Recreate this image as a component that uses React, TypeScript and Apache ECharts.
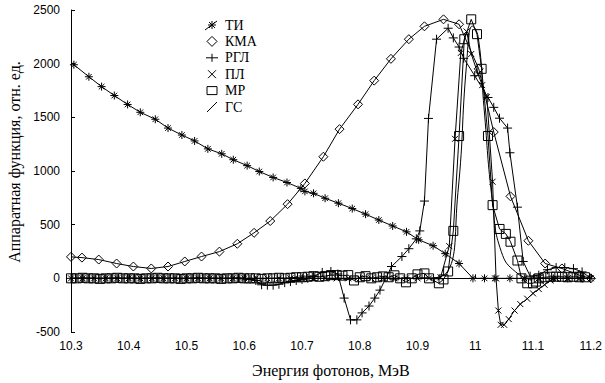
import React, { useEffect, useRef } from "react";
import * as echarts from "echarts";

const tiData: [number, number][] = [
  [10.305, 1990], [10.331, 1878], [10.353, 1786], [10.375, 1703], [10.398, 1620], [10.42, 1547],
  [10.446, 1482], [10.468, 1400], [10.492, 1335], [10.514, 1280], [10.537, 1206], [10.561, 1160],
  [10.581, 1105], [10.605, 1050], [10.626, 995], [10.65, 940], [10.674, 893], [10.698, 838],
  [10.705, 810], [10.72, 792], [10.74, 746], [10.763, 700], [10.787, 650], [10.81, 598], [10.833, 543],
  [10.857, 488], [10.881, 433], [10.902, 359], [10.927, 304], [10.948, 230], [10.972, 138],
  [10.996, 0], [11.016, 0], [11.034, 0], [11.06, 0], [11.085, 0], [11.11, 0], [11.135, 0],
  [11.16, 0], [11.185, 0],
];

const kmaData: [number, number][] = [
  [10.3, 200], [10.319, 193], [10.348, 175], [10.379, 138], [10.408, 110], [10.439, 92],
  [10.468, 110], [10.497, 157], [10.526, 203], [10.557, 249], [10.588, 322], [10.617, 424],
  [10.645, 534], [10.675, 691], [10.705, 884], [10.737, 1133], [10.765, 1390], [10.797, 1621],
  [10.825, 1842], [10.854, 2045], [10.885, 2228], [10.912, 2348], [10.945, 2413], [10.972, 2367],
  [11.006, 1952], [11.032, 1363], [11.061, 764], [11.092, 350], [11.121, 138], [11.15, 92],
  [11.18, 30], [11.2, 0],
];

const rglData: [number, number][] = [
  [10.3, 0], [10.31, 0], [10.32, 0], [10.33, 0], [10.34, 0], [10.35, 0], [10.36, 0], [10.37, 0],
  [10.38, 0], [10.39, 0], [10.4, 0], [10.41, 0], [10.42, 0], [10.43, 0], [10.44, 0], [10.45, 0],
  [10.46, 0], [10.47, 0], [10.48, 0], [10.49, 0], [10.5, 0], [10.51, 0], [10.52, 0], [10.53, 0],
  [10.54, 0], [10.55, 0], [10.56, 0], [10.57, 0], [10.58, 0], [10.59, 0], [10.6, -5], [10.61, -10],
  [10.62, -20], [10.63, -60], [10.64, -64], [10.65, -64], [10.66, -55], [10.67, -40], [10.68, -30],
  [10.69, -20], [10.7, -10], [10.71, 0], [10.72, 20], [10.735, 55], [10.75, 64], [10.762, 40],
  [10.773, -184], [10.784, -387], [10.795, -387], [10.804, -322], [10.816, -258], [10.826, -184],
  [10.835, -110], [10.855, 110], [10.873, 203], [10.885, 276], [10.898, 368], [10.904, 442],
  [10.912, 720], [10.919, 1490], [10.933, 2228], [10.953, 2330], [10.962, 2240], [10.972, 2155],
  [10.98, 2050], [10.999, 1888], [11.022, 1685], [11.032, 1593], [11.042, 1492], [11.056, 1400],
  [11.06, 1170], [11.073, 663], [11.083, 157], [11.095, 20], [11.11, 30], [11.125, 80],
  [11.14, 100], [11.155, 100], [11.17, 90], [11.185, 60], [11.2, 0],
];

const plData: [number, number][] = [
  [10.3, 0], [10.32, 0], [10.34, 0], [10.36, 0], [10.38, 0], [10.4, 0], [10.42, 0], [10.44, 0],
  [10.46, 0], [10.48, 0], [10.5, 0], [10.52, 0], [10.54, 0], [10.56, 0], [10.58, 0], [10.6, 0],
  [10.62, 0], [10.64, 0], [10.66, 0], [10.68, 0], [10.7, 0], [10.72, 0], [10.74, 0], [10.76, 0],
  [10.78, 0], [10.8, 0], [10.82, 0], [10.84, 0], [10.86, 0], [10.88, 0], [10.9, 0], [10.92, 0],
  [10.94, 10], [10.955, 300], [10.965, 1300], [10.975, 2100], [10.985, 2300], [10.993, 2090],
  [11.005, 1900], [11.012, 1800], [11.02, 1690], [11.03, 900], [11.036, 0], [11.04, -300],
  [11.044, -433], [11.05, -433], [11.058, -380], [11.068, -300], [11.078, -240], [11.09, -190],
  [11.1, -140], [11.11, -100], [11.12, -60], [11.13, -20], [11.14, 0], [11.16, 0], [11.18, 0],
  [11.2, 0],
];

const mrData: [number, number][] = [
  [10.3, 0], [10.31, 0], [10.32, 5], [10.33, 0], [10.34, 0], [10.35, -5], [10.36, 0], [10.37, 0],
  [10.38, 5], [10.39, 0], [10.4, 0], [10.41, 0], [10.42, -5], [10.43, 0], [10.44, 0], [10.45, 5],
  [10.46, 0], [10.47, 0], [10.48, 0], [10.49, -5], [10.5, 0], [10.51, 0], [10.52, 5], [10.53, 0],
  [10.54, 0], [10.55, 0], [10.56, -5], [10.57, 0], [10.58, 0], [10.59, 5], [10.6, 0], [10.61, 0],
  [10.62, 0], [10.63, -5], [10.64, 0], [10.65, 0], [10.66, 5], [10.67, 0], [10.68, 5], [10.69, 10],
  [10.7, 10], [10.71, 15], [10.72, 20], [10.73, 15], [10.74, 20], [10.75, 30], [10.76, 30],
  [10.77, 25], [10.78, 30], [10.79, -20], [10.8, 10], [10.81, 20], [10.82, 0], [10.83, 10],
  [10.84, 18], [10.85, 10], [10.86, 28], [10.87, 0], [10.88, -37], [10.89, 0], [10.9, 37],
  [10.912, 46], [10.92, 0], [10.937, -46], [10.945, -10], [10.953, 64], [10.962, 442],
  [10.972, 1326], [10.981, 2228], [10.993, 2413], [11.003, 2275], [11.011, 1952], [11.022, 1326],
  [11.03, 682], [11.042, 460], [11.053, 414], [11.061, 341], [11.073, 166], [11.08, 0],
  [11.09, -46], [11.1, -46], [11.105, -30], [11.11, 0], [11.12, 10], [11.13, 15], [11.14, 15],
  [11.15, 15], [11.16, 10], [11.17, 15], [11.18, 10], [11.19, 10],
];

const gsData: [number, number][] = [
  [10.3, 0], [10.9, 0], [10.95, 50], [10.97, 800], [10.985, 2000], [10.995, 2350], [11.005, 2250],
  [11.015, 1600], [11.03, 700], [11.045, 250], [11.07, 60], [11.1, 0], [11.2, 0],
];

const legendNames = ["ТИ", "КМА", "РГЛ", "ПЛ", "МР", "ГС"];

const STAR = "path://M5,0L5,10M0,5L10,5M1.5,1.5L8.5,8.5M1.5,8.5L8.5,1.5";
const DIAMOND = "path://M5,0L10,5L5,10L0,5Z";
const PLUS = "path://M0,5L10,5M5,0L5,10";
const CROSS = "path://M0,0L10,10M0,10L10,0";
const SQUARE = "path://M0,0L10,0L10,10L0,10Z";

const Y_NAME = "Аппаратная функция, отн. ед.";
const X_NAME = "Энергия фотонов, МэВ";

const ln = (x1: number, y1: number, x2: number, y2: number) => ({
  type: "line",
  shape: { x1, y1, x2, y2 },
  style: { stroke: "#000", lineWidth: 1 },
});

const legendIcon = (i: number): any[] => {
  switch (i) {
    case 0:
      return [ln(0, -4, 0, 4), ln(-4, 0, 4, 0), ln(-3, -3, 3, 3), ln(-3, 3, 3, -3), ln(-7, 5, 5, -4)];
    case 1:
      return [{ type: "polygon", shape: { points: [[0, -5], [5, 0], [0, 5], [-5, 0]] }, style: { fill: "none", stroke: "#000", lineWidth: 1 } }];
    case 2:
      return [ln(-6, 0, 6, 0), ln(0, -4, 0, 4)];
    case 3:
      return [ln(-4, -4, 4, 4), ln(-4, 4, 4, -4)];
    case 4:
      return [{ type: "rect", shape: { x: -5, y: -4, width: 10, height: 8 }, style: { fill: "none", stroke: "#000", lineWidth: 1 } }];
    default:
      return [ln(-5, 5, 5, -5)];
  }
};

export default function App() {
  const ref = useRef<HTMLDivElement>(null);
  useEffect(() => {
    if (!ref.current) return;
    const chart = echarts.init(ref.current, undefined, { renderer: "svg" });
    const mk = (name: string, data: [number, number][], symbol: string, size: number, smooth = false) => ({
      name,
      type: "line",
      data,
      symbol,
      symbolSize: size,
      showSymbol: symbol !== "none",
      smooth,
      lineStyle: { color: "#000", width: 1 },
      itemStyle: { color: "none", borderColor: "#000", borderWidth: 1 },
    });
    const legendGraphics = legendNames.map((name, i) => ({
      type: "group",
      x: 212,
      y: 25 + i * 16.4,
      children: [
        ...legendIcon(i),
        {
          type: "text",
          x: 13,
          y: 0,
          style: {
            text: name,
            fontFamily: "Liberation Serif",
            fontSize: 14,
            fill: "#000",
            verticalAlign: "middle",
            textVerticalAlign: "middle",
          },
        },
      ],
    }));
    chart.setOption({
      animation: false,
      backgroundColor: "#fff",
      grid: { left: 71, right: 9, top: 10, bottom: 49 },
      graphic: [
        {
          type: "text",
          x: 14,
          y: 162,
          rotation: Math.PI / 2,
          style: {
            text: Y_NAME,
            fontFamily: "Liberation Serif",
            fontSize: 16,
            fill: "#000",
            align: "center",
            verticalAlign: "middle",
            textAlign: "center",
            textVerticalAlign: "middle",
          },
        },
        ...legendGraphics,
      ],
      xAxis: {
        type: "value",
        min: 10.3,
        max: 11.2,
        interval: 0.1,
        name: X_NAME,
        nameLocation: "middle",
        nameGap: 30,
        nameTextStyle: { fontFamily: "Liberation Serif", fontSize: 16, color: "#000" },
        axisLine: { lineStyle: { color: "#000" } },
        axisTick: { inside: true, length: 4, lineStyle: { color: "#000" } },
        splitLine: { show: false },
        axisLabel: {
          color: "#000",
          fontFamily: "Liberation Sans",
          fontSize: 12,
          margin: 8,
          formatter: (v: number) => String(+v.toFixed(1)),
        },
      },
      yAxis: {
        type: "value",
        min: -500,
        max: 2500,
        interval: 500,
        axisLine: { show: true, lineStyle: { color: "#000" } },
        axisTick: { inside: true, length: 4, lineStyle: { color: "#000" } },
        splitLine: { show: false },
        axisLabel: {
          color: "#000",
          fontFamily: "Liberation Sans",
          fontSize: 12,
          margin: 11,
          formatter: (v: number) => String(v),
        },
      },
      series: [
        mk("ТИ", tiData, STAR, 8),
        mk("КМА", kmaData, DIAMOND, 9),
        mk("РГЛ", rglData, PLUS, 9),
        mk("ПЛ", plData, CROSS, 6),
        mk("МР", mrData, SQUARE, 9),
        mk("ГС", gsData, "none", 1, true),
      ],
    });
    return () => chart.dispose();
  }, []);
  return <div ref={ref} style={{ width: 605, height: 383, position: "absolute", left: 0, top: 0 }} />;
}
